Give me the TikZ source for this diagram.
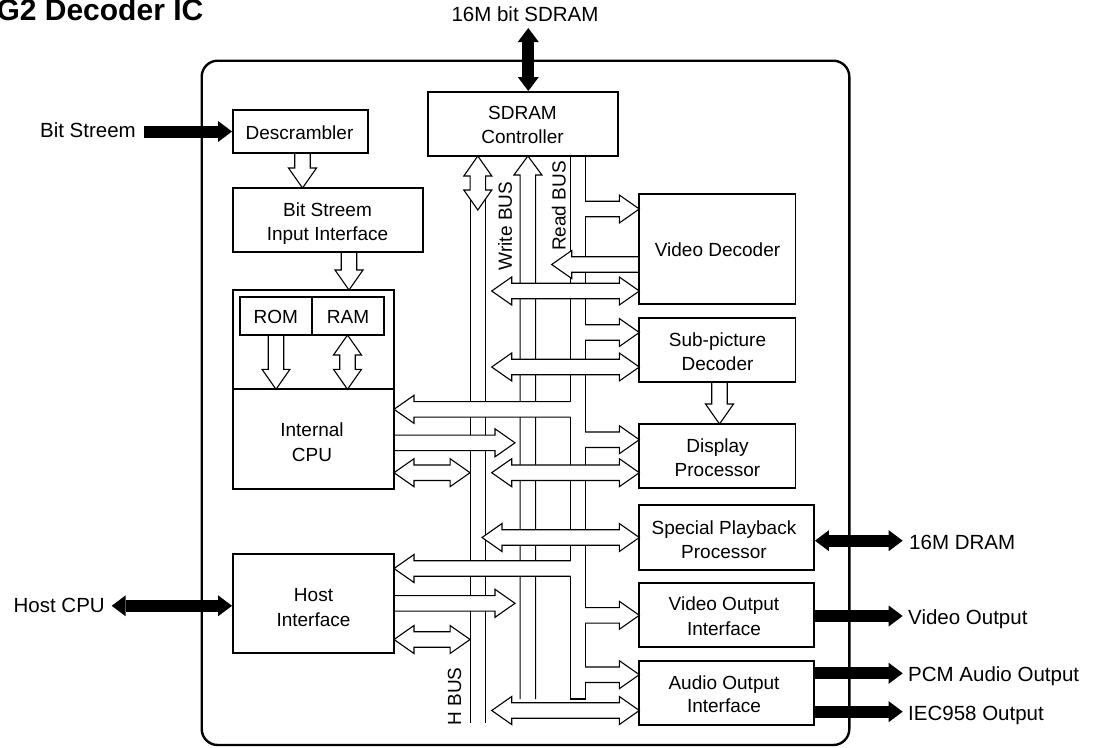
\documentclass[tikz,border=0pt]{standalone}
\usepackage{fontspec}
\setmainfont{Liberation Sans}
\usetikzlibrary{arrows.meta}
% hollow arrows: shaft half-width 7.75, head half-width 14, head length 20
\newcommand\harR[3]{\filldraw[hol] (#1,#3-7.75) -- (#2-20,#3-7.75) -- (#2-20,#3-14) -- (#2,#3) -- (#2-20,#3+14) -- (#2-20,#3+7.75) -- (#1,#3+7.75) -- cycle;}
\newcommand\harL[3]{\filldraw[hol] (#2,#3-7.75) -- (#1+20,#3-7.75) -- (#1+20,#3-14) -- (#1,#3) -- (#1+20,#3+14) -- (#1+20,#3+7.75) -- (#2,#3+7.75) -- cycle;}
\newcommand\harLR[3]{\filldraw[hol] (#1,#3) -- (#1+20,#3-14) -- (#1+20,#3-7.75) -- (#2-20,#3-7.75) -- (#2-20,#3-14) -- (#2,#3) -- (#2-20,#3+14) -- (#2-20,#3+7.75) -- (#1+20,#3+7.75) -- (#1+20,#3+14) -- cycle;}
\newcommand\harD[3]{\filldraw[hol] (#1-7.75,#2) -- (#1-7.75,#3-20) -- (#1-14,#3-20) -- (#1,#3) -- (#1+14,#3-20) -- (#1+7.75,#3-20) -- (#1+7.75,#2) -- cycle;}
\newcommand\harUD[3]{\filldraw[hol] (#1,#2) -- (#1+14,#2+20) -- (#1+7.75,#2+20) -- (#1+7.75,#3-20) -- (#1+14,#3-20) -- (#1,#3) -- (#1-14,#3-20) -- (#1-7.75,#3-20) -- (#1-7.75,#2+20) -- (#1-14,#2+20) -- cycle;}
% branch arrows leaving a bus line (open on the bus side)
\newcommand\brR[3]{\fill[white] (#1-0.8,#3-7.75) -- (#2-20,#3-7.75) -- (#2-20,#3-14) -- (#2,#3) -- (#2-20,#3+14) -- (#2-20,#3+7.75) -- (#1-0.8,#3+7.75) -- cycle;
 \draw[hol,fill=none,line cap=rect] (#1,#3-7.75) -- (#2-20,#3-7.75) -- (#2-20,#3-14) -- (#2,#3) -- (#2-20,#3+14) -- (#2-20,#3+7.75) -- (#1,#3+7.75);}
\newcommand\brL[3]{\fill[white] (#2+0.8,#3-7.75) -- (#1+20,#3-7.75) -- (#1+20,#3-14) -- (#1,#3) -- (#1+20,#3+14) -- (#1+20,#3+7.75) -- (#2+0.8,#3+7.75) -- cycle;
 \draw[hol,fill=none,line cap=rect] (#2,#3-7.75) -- (#1+20,#3-7.75) -- (#1+20,#3-14) -- (#1,#3) -- (#1+20,#3+14) -- (#1+20,#3+7.75) -- (#2,#3+7.75);}
\begin{document}
\begin{tikzpicture}[x=1pt,y=-1pt,
 hol/.style={draw=black,fill=white,line width=1.1pt,line join=miter},
 busl/.style={draw=black,line width=1.1pt},
 box/.style={draw=black,line width=1.9pt,inner sep=0pt},
 lbl/.style={inner sep=0pt,anchor=base,font=\fontsize{19}{22}\selectfont},
 rlbl/.style={inner sep=0pt,font=\fontsize{19}{22}\selectfont,rotate=90},
 olbl/.style={inner sep=0pt,font=\fontsize{20.5}{24}\selectfont},
 big/.style={line width=12pt,-{Triangle[length=14pt,width=21pt,line width=0pt]}},
 bigboth/.style={line width=12pt,{Triangle[length=14pt,width=21pt,line width=0pt]}-{Triangle[length=14pt,width=21pt,line width=0pt]}}
]
\useasboundingbox (0,0) rectangle (1102,747);

% title
\node[anchor=base east,inner sep=0pt,font=\fontsize{30}{34}\selectfont\bfseries] (title) at (203.5,20.5) {G2 Decoder IC};

% chip outline
\draw[line width=2.4pt,rounded corners=16pt] (201.7,60.7) rectangle (849.3,745);

% bus lines
\draw[busl] (470.05,195) -- (470.05,723.3);
\draw[busl] (485.55,195) -- (485.55,723.3);
\draw[busl,line join=miter] (520.15,699) -- (520.15,175) -- (513.9,175) -- (527.9,156) -- (541.9,175) -- (535.65,175) -- (535.65,699);
\draw[busl] (570.05,156) -- (570.05,699) -- (585.75,699) -- (585.75,156);
\harUD{477.8}{156}{210}

% read bus branches to the right
\brR{585.75}{639.3}{209}
\brR{585.75}{639.3}{332.5}
\brR{585.75}{639.3}{439.7}
\brR{585.75}{639.3}{615.3}
\brR{585.75}{639.3}{674.7}
% read bus branches to the left
\brL{394}{570.05}{409.3}
\brL{394}{570.05}{568.5}

% video decoder to read bus
\harL{551.7}{639.3}{264.5}
% double arrows between buses and blocks
\harLR{491.7}{639.3}{291}
\harLR{491.7}{639.3}{367}
\harLR{491.7}{639.3}{472.7}
\harLR{482}{639.3}{537.5}
\harLR{491.7}{639.3}{710.5}
% CPU and host to write bus / H bus
\harR{394}{515}{442.8}
\harR{394}{515}{603.3}
\harLR{394}{470.05}{472.7}
\harLR{394}{470.05}{639.5}
% vertical hollow arrows
\harD{302.5}{153}{188}
\harD{349}{252}{290}
\harD{276}{335}{389.3}
\harUD{347.5}{335}{389.3}
\harD{719.5}{382}{424}

% blocks
\node[box,minimum width=135pt,minimum height=43pt] (desc) at (300.5,131.5) {};
\node[box,minimum width=189.7pt,minimum height=64pt] (bsii) at (327.85,220) {};
\node[box,minimum width=190pt,minimum height=64pt] (sdram) at (523,124) {};
\node[box,minimum width=161pt,minimum height=199.3pt] (cpu) at (313.5,389.65) {};
\draw[line width=1.9pt] (233,389.3) -- (394,389.3);
\node[box,minimum width=71.7pt,minimum height=37.7pt] (rom) at (275.85,316.15) {};
\node[box,minimum width=72.6pt,minimum height=37.7pt] (ram) at (348,316.15) {};
\node[box,minimum width=161pt,minimum height=99.3pt] (host) at (313.5,603.65) {};
\node[box,minimum width=156.2pt,minimum height=110.3pt] (vd) at (717.4,249.15) {};
\node[box,minimum width=156.2pt,minimum height=64pt] (spd) at (717.4,350) {};
\node[box,minimum width=156.2pt,minimum height=64.3pt] (dp) at (717.4,456.15) {};
\node[box,minimum width=174.7pt,minimum height=65pt] (spp) at (726.65,537.5) {};
\node[box,minimum width=174.7pt,minimum height=63.4pt] (voi) at (726.65,615) {};
\node[box,minimum width=174.7pt,minimum height=64.3pt] (aoi) at (726.65,692.85) {};

% block texts
\node[lbl] (tdesc) at (299.5,139.3) {Descrambler};
\node[lbl] (tbs1) at (327.5,216.7) {Bit Streem};
\node[lbl] (tbs2) at (327.5,240) {Input Interface};
\node[lbl] (tsd1) at (522.5,119) {SDRAM};
\node[lbl] (tsd2) at (522.5,143.3) {Controller};
\node[lbl] (trom) at (275.8,323.3) {ROM};
\node[lbl] (tram) at (348,323.3) {RAM};
\node[lbl] (tcpu1) at (312,436.7) {Internal};
\node[lbl] (tcpu2) at (312,461) {CPU};
\node[lbl] (thost1) at (313.5,601) {Host};
\node[lbl] (thost2) at (313.5,626) {Interface};
\node[lbl] (tvd) at (717.5,256.7) {Video Decoder};
\node[lbl] (tsp1) at (717.5,346) {Sub-picture};
\node[lbl] (tsp2) at (717.5,370) {Decoder};
\node[lbl] (tdp1) at (717.5,452.3) {Display};
\node[lbl] (tdp2) at (717.5,476.7) {Processor};
\node[lbl] (tspp1) at (724,534.3) {Special Playback};
\node[lbl] (tspp2) at (724,558.3) {Processor};
\node[lbl] (tvo1) at (724,610.7) {Video Output};
\node[lbl] (tvo2) at (724,635.7) {Interface};
\node[lbl] (tao1) at (724,689) {Audio Output};
\node[lbl] (tao2) at (724,712.3) {Interface};
\node[rlbl] (twb) at (505,226) {Write BUS};
\node[rlbl] (trb) at (558.7,206) {Read BUS};
\node[rlbl] (thb) at (454.5,696.5) {H BUS};

% outside labels
\node[olbl,anchor=base] (lsd) at (525,21.5) {16M bit SDRAM};
\node[olbl,anchor=base east] (lbs) at (136,137) {Bit Streem};
\node[olbl,anchor=base east] (lhc) at (105,612) {Host CPU};
\node[olbl,anchor=base west] (ldr) at (909,549) {16M DRAM};
\node[olbl,anchor=base west] (lvo) at (908,624.3) {Video Output};
\node[olbl,anchor=base west] (lpcm) at (908,681.7) {PCM Audio Output};
\node[olbl,anchor=base west] (liec) at (908,720) {IEC958 Output};

% thick external connectors
\coordinate (bsin) at (144,131.5);
\coordinate (sdtop) at (528.3,28);
\coordinate (hcpu) at (111.7,605.8);
\coordinate (drame) at (902.7,540.7);
\coordinate (voe) at (902.7,616);
\coordinate (pcme) at (902.7,673.3);
\coordinate (iece) at (902.7,711.7);
\draw[big] (bsin) -- (desc.west);
\draw[bigboth] (sdtop) -- (sdtop |- sdram.north);
\draw[bigboth] (hcpu) -- (hcpu -| host.west);
\draw[bigboth] (drame -| spp.east) -- (drame);
\draw[big] (voe -| voi.east) -- (voe);
\draw[big] (pcme -| aoi.east) -- (pcme);
\draw[big] (iece -| aoi.east) -- (iece);
\end{tikzpicture}
\end{document}
